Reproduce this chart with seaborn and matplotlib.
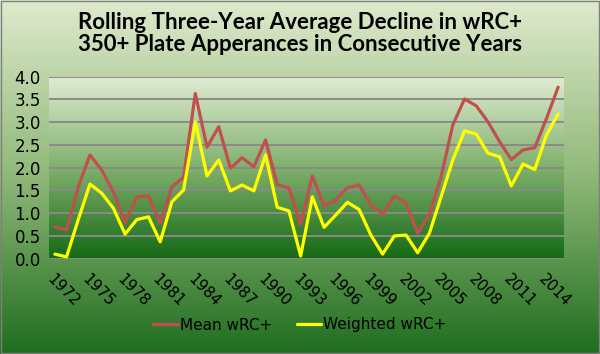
import numpy as np
import pandas as pd
import matplotlib
matplotlib.use("Agg")
import matplotlib.pyplot as plt
import seaborn as sns
from matplotlib.colors import LinearSegmentedColormap

# Data
years = list(range(1972, 2016))
mean_wrc = [0.70, 0.63, 1.58, 2.28, 1.95, 1.47, 0.80, 1.36, 1.38, 0.78, 1.58, 1.79,
            3.63, 2.45, 2.90, 1.99, 2.22, 2.02, 2.61, 1.63, 1.55, 0.76, 1.82, 1.16,
            1.29, 1.56, 1.62, 1.18, 0.98, 1.38, 1.22, 0.56, 0.98, 1.80, 2.94, 3.51,
            3.36, 3.01, 2.57, 2.18, 2.39, 2.44, 3.08, 3.77]
weighted_wrc = [0.10, 0.04, 0.86, 1.64, 1.44, 1.11, 0.54, 0.86, 0.92, 0.37, 1.25, 1.51,
                3.01, 1.82, 2.17, 1.49, 1.62, 1.49, 2.28, 1.13, 1.05, 0.06, 1.36, 0.69,
                0.96, 1.24, 1.08, 0.52, 0.10, 0.50, 0.52, 0.13, 0.56, 1.36, 2.17, 2.81,
                2.74, 2.32, 2.24, 1.60, 2.08, 1.96, 2.72, 3.18]
series_names = ["Mean wRC+", "Weighted wRC+"]
series_colors = {"Mean wRC+": "#c0504d", "Weighted wRC+": "#ffff00"}
y_ticks = [0.0, 0.5, 1.0, 1.5, 2.0, 2.5, 3.0, 3.5, 4.0]

df = pd.DataFrame({
    "pos": list(range(len(years))) * 2,
    "value": mean_wrc + weighted_wrc,
    "series": [series_names[0]] * len(years) + [series_names[1]] * len(years),
})

sns.set_theme(style="white")
plt.rcParams["font.family"] = ["DejaVu Sans"]
plt.rcParams["text.color"] = "black"

fig = plt.figure(figsize=(6.0, 3.54), dpi=100)

# figure background gradient
bg = fig.add_axes([0, 0, 1, 1], zorder=-10)
fig_cmap = LinearSegmentedColormap.from_list("figbg", ["#dfeacd", "#8fb878", "#1f6d1f"])
bg.imshow(np.linspace(0, 1, 256).reshape(-1, 1), cmap=fig_cmap, aspect="auto",
          extent=[0, 1, 0, 1])
bg.set_xlim(0, 1)
bg.set_ylim(0, 1)
bg.axis("off")
bg.add_patch(plt.Rectangle((0.001, 0.002), 0.997, 0.995, fill=False,
                           edgecolor="#7f7f7f", linewidth=1.0))

ax = fig.add_axes([49 / 600, 1 - 258.7 / 354, 515 / 600, 182 / 354])
ax.patch.set_alpha(0)
plot_cmap = LinearSegmentedColormap.from_list("plotbg", ["#e1ecd3", "#7fb06c", "#156915"])
ax.imshow(np.linspace(0, 1, 256).reshape(-1, 1), cmap=plot_cmap, aspect="auto",
          extent=[0, 1, 0, 1], transform=ax.transAxes, zorder=0)

for yv in y_ticks:
    ax.axhline(yv, color="#8a8a8a", linewidth=1.4, zorder=1)

sns.lineplot(data=df, x="pos", y="value", hue="series", palette=series_colors,
             linewidth=2.3, ax=ax, legend=False, zorder=3)

ax.set_xlim(-0.5, len(years) - 0.5)
ax.set_ylim(0, 4)
ax.set_yticks(y_ticks)
ax.set_yticklabels([f"{v:.1f}" for v in y_ticks], fontsize=12, color="black")
tick_pos = list(range(0, len(years), 3))
ax.set_xticks(tick_pos)
ax.set_xticklabels([str(years[i]) for i in tick_pos], rotation=-45, ha="left",
                   va="top", rotation_mode="anchor", fontsize=11, color="black")
ax.tick_params(axis="both", length=0, pad=6)
ax.tick_params(axis="x", pad=9)
ax.set_xlabel("")
ax.set_ylabel("")
for s in ax.spines.values():
    s.set_visible(False)

fig.text(0.5, 0.905, "Rolling Three-Year Average Decline in wRC+\n350+ Plate Apperances in Consecutive Years",
         ha="center", va="center", fontsize=16, fontweight="bold", family="Lato",
         linespacing=1.05, color="black")

handles = [plt.Line2D([], [], color=series_colors[n], linewidth=2.3) for n in series_names]
leg = fig.legend(handles, series_names, loc="center", bbox_to_anchor=(0.5, 1 - 325 / 354),
                 ncol=2, frameon=False, fontsize=11, handlelength=1.6, handletextpad=0.15,
                 columnspacing=1.6)
for t in leg.get_texts():
    t.set_color("black")

fig.savefig("out.png", dpi=100)
